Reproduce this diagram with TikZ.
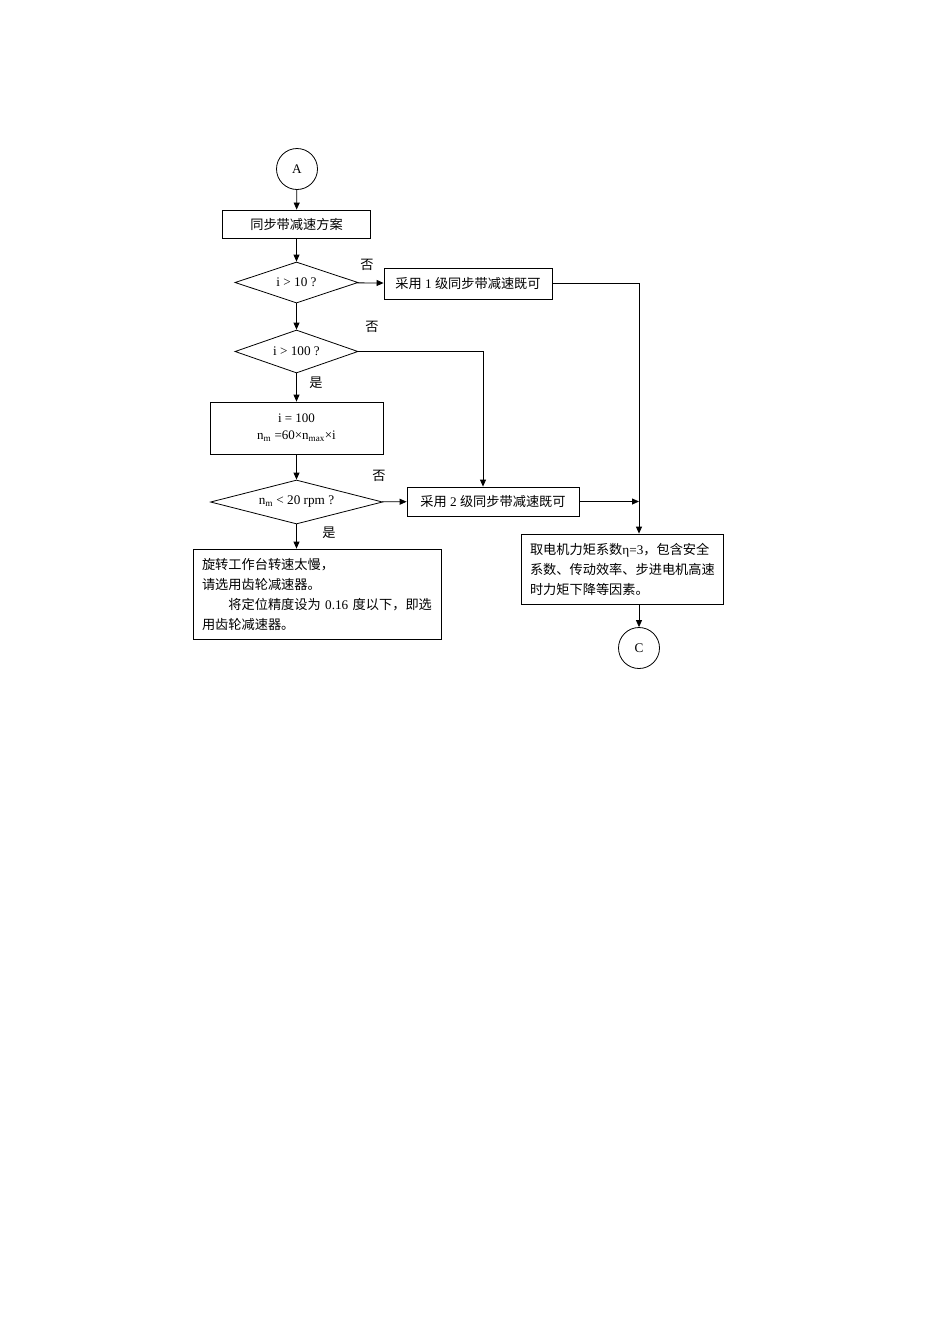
\documentclass[tikz,border=0pt]{standalone}
\usepackage{fontspec}
\setmainfont{Liberation Serif}
\newfontfamily\cjk{Noto Sans CJK SC}
\usetikzlibrary{shapes.geometric,arrows.meta}
\newcommand\zh[1]{{\cjk #1}}
\begin{document}
\begin{tikzpicture}[x=1pt,y=-1pt,
  every node/.style={font=\fontsize{13.2}{20}\selectfont, inner sep=0pt},
  boxnode/.style={draw, line width=0.8pt, rectangle},
  decision/.style={draw, line width=0.8pt, diamond, aspect=3},
  connector/.style={draw, line width=0.8pt, circle, minimum size=41pt},
  flow/.style={line width=0.8pt, -{Triangle[length=7pt,width=6pt]}},
  lab/.style={font=\cjk\fontsize{13.2}{15}\selectfont}
]
\useasboundingbox (0,0) rectangle (950,1344);

\node[connector] (A) at (297,169) {A};
\node[boxnode, minimum width=148pt, minimum height=28pt] (b1) at (296.5,224) {\zh{同步带减速方案}};
\node[decision, minimum width=123pt, minimum height=41pt] (d1) at (296.5,282.5) {i > 10 ?};
\node[boxnode, minimum width=168pt, minimum height=31pt] (s1) at (468,283.5) {\zh{采用} 1 \zh{级同步带减速既可}};
\node[decision, minimum width=123pt, minimum height=43pt] (d2) at (296.5,351.5) {i > 100 ?};
\node[boxnode, minimum width=173pt, minimum height=52pt, align=center, font=\fontsize{13}{17}\selectfont] (calc) at (296.5,428) {i = 100\\n\textsubscript{m} =60×n\textsubscript{max}×i};
\node[decision, minimum width=172pt, minimum height=44pt] (d3) at (296.5,502) {n\textsubscript{m} < 20 rpm ?};
\node[boxnode, minimum width=172pt, minimum height=29pt] (s2) at (493,501.5) {\zh{采用} 2 \zh{级同步带减速既可}};
\node[boxnode, minimum width=248pt, minimum height=90pt, align=left, text width=230pt] (gear) at (317,594) {\zh{旋转工作台转速太慢，}\\\zh{请选用齿轮减速器。}\\\zh{　　将定位精度设为} 0.16 \zh{度以下，即选}\\\zh{用齿轮减速器。}};
\node[boxnode, minimum width=202pt, minimum height=70pt, align=left, text width=184pt] (torque) at (622,569) {\zh{取电机力矩系数}η=3\zh{，包含安全}\\\zh{系数、传动效率、步进电机高速}\\\zh{时力矩下降等因素。}};
\node[connector] (C) at (639,648) {C};

\coordinate (r1) at (639,283.5);
\coordinate (r2) at (483,351.5);
\coordinate (j2) at (639,501.5);

\draw[flow] (A) -- (b1);
\draw[flow] (b1) -- (d1);
\draw[flow] (d1) -- (s1);
\draw[flow] (d1) -- (d2);
\draw[flow] (d2) -- (calc);
\draw[flow] (calc) -- (d3);
\draw[flow] (d3) -- (s2);
\draw[flow] (d3.south) -- (d3.south |- gear.north);
\draw[flow] (d2.east) -- (r2) -- (r2 |- s2.north);
\draw[flow] (s1.east) -- (r1) -- (r1 |- torque.north);
\draw[flow] (s2.east) -- (j2);
\draw[flow] (torque.south -| C) -- (C);

\node[lab] (l1) at (367,265) {否};
\node[lab] (l2) at (372,327) {否};
\node[lab] (l3) at (316,383) {是};
\node[lab] (l4) at (379,476) {否};
\node[lab] (l5) at (329,533) {是};
\end{tikzpicture}
\end{document}
